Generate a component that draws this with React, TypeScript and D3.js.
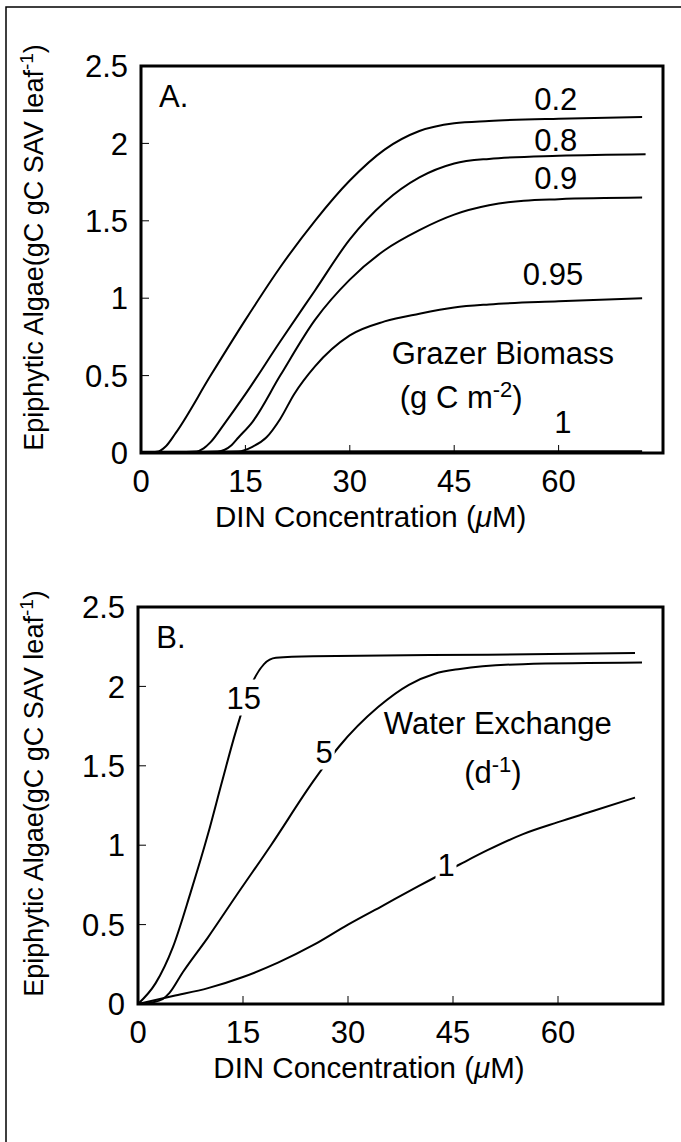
import React from "react";
import * as d3 from "d3";

type Pt = [number, number];

// ---------- data ----------
const xTicks = [0, 15, 30, 45, 60];
const yTicks = [0, 0.5, 1, 1.5, 2, 2.5];
const yTickLabels = ["0", "0.5", "1", "1.5", "2", "2.5"];

// Panel A: grazer biomass (g C m-2)
const grazer02: Pt[] = [[0, 0], [2.5, 0.01], [3.5, 0.04], [5, 0.13], [10, 0.5], [15, 0.86], [20, 1.2], [25, 1.5], [30, 1.76], [35, 1.96], [40, 2.08], [45, 2.13], [50, 2.145], [60, 2.16], [72, 2.17]];
const grazer08: Pt[] = [[0, 0], [8, 0.01], [9, 0.03], [10, 0.07], [12, 0.19], [15, 0.38], [20, 0.72], [25, 1.05], [30, 1.38], [35, 1.62], [40, 1.78], [45, 1.87], [50, 1.9], [60, 1.92], [72.5, 1.93]];
const grazer09: Pt[] = [[0, 0], [11, 0.01], [13, 0.05], [14, 0.1], [16, 0.2], [20, 0.5], [25, 0.86], [30, 1.12], [35, 1.31], [40, 1.44], [45, 1.54], [50, 1.6], [55, 1.63], [60, 1.64], [72, 1.65]];
const grazer095: Pt[] = [[0, 0], [14, 0.01], [16, 0.04], [18, 0.1], [20, 0.22], [22, 0.38], [25, 0.56], [30, 0.76], [35, 0.85], [40, 0.9], [45, 0.94], [50, 0.96], [60, 0.98], [72, 1.0]];
const grazer1: Pt[] = [[0, 0.005], [36, 0.008], [72, 0.008]];
const grazerLabels = ["0.2", "0.8", "0.9", "0.95", "1"];
const grazerLabelPos: Pt[] = [[59.6, 2.29], [59.6, 2.02], [59.6, 1.78], [59.2, 1.16], [60.6, 0.2]];

// Panel B: water exchange (d-1)
const exch15: Pt[] = [[0, 0], [2.5, 0.13], [5, 0.36], [7.5, 0.7], [10, 1.07], [12, 1.4], [14, 1.72], [16, 1.99], [18, 2.14], [19.7, 2.18], [25, 2.19], [50, 2.2], [71, 2.21]];
const exch5: Pt[] = [[0, 0], [2, 0.01], [3.5, 0.03], [4.5, 0.07], [6.4, 0.2], [10, 0.42], [14, 0.68], [19, 1.0], [25, 1.4], [28.7, 1.62], [34.3, 1.87], [38.7, 2.01], [42.4, 2.08], [46, 2.11], [55, 2.14], [72, 2.15]];
const exch1: Pt[] = [[0, 0], [5, 0.05], [10, 0.1], [15, 0.17], [20, 0.26], [25, 0.37], [30, 0.5], [35, 0.62], [40, 0.74], [46, 0.88], [50, 0.97], [55, 1.07], [60, 1.145], [65, 1.215], [71, 1.3]];
const exchLabels = ["15", "5", "1"];
const exchLabelPos: Pt[] = [[15.1, 1.93], [26.6, 1.59], [44, 0.875]];

const FONT = "'Liberation Sans', Arial, sans-serif";
const FS = 31;

interface PanelProps {
  left: number; right: number; top: number; bottom: number;
  series: Pt[][];
  labels: string[];
  labelPos: Pt[];
  gapLabels: boolean;
  letter: string;
  children?: (x: d3.ScaleLinear<number, number>, y: d3.ScaleLinear<number, number>) => React.ReactNode;
}

function Panel({ left, right, top, bottom, series, labels, labelPos, gapLabels, letter, children }: PanelProps) {
  const x = d3.scaleLinear().domain([0, 75]).range([left, right]);
  const y = d3.scaleLinear().domain([0, 2.5]).range([bottom, top]);
  const line = d3.line<Pt>().x(d => x(d[0])).y(d => y(d[1])).curve(d3.curveMonotoneX);
  const midY = (top + bottom) / 2 - 12;
  return (
    <g fontFamily={FONT}>
      {series.map((s, i) => (
        <path key={i} d={line(s) || ""} fill="none" stroke="#000" strokeWidth={i === series.length - 1 && !gapLabels ? 3 : 2} />
      ))}
      {labels.map((l, i) => {
        const cx = x(labelPos[i][0]);
        const cy = y(labelPos[i][1]);
        const w = l.length * 17 + 4;
        return (
          <g key={l + i}>
            {gapLabels && <rect x={cx - w / 2} y={cy - 18} width={w} height={36} fill="#fff" />}
            <text x={cx} y={cy} dy="0.36em" textAnchor="middle" fontSize={FS}>{l}</text>
          </g>
        );
      })}
      <rect x={left} y={top} width={right - left} height={bottom - top} fill="none" stroke="#000" strokeWidth={3} />
      {yTicks.slice(1, -1).map(t => (
        <line key={"yt" + t} x1={left} x2={left + 8} y1={y(t)} y2={y(t)} stroke="#000" strokeWidth={1} />
      ))}
      {xTicks.slice(1).map(t => (
        <line key={"xt" + t} x1={x(t)} x2={x(t)} y1={bottom} y2={bottom - 8} stroke="#000" strokeWidth={1} />
      ))}
      {yTicks.map((t, i) => (
        <text key={"yl" + t} x={left - 13} y={y(t)} dy="0.36em" textAnchor="end" fontSize={FS}>{yTickLabels[i]}</text>
      ))}
      {xTicks.map(t => (
        <text key={"xl" + t} x={x(t)} y={bottom + 28} dy="0.36em" textAnchor="middle" fontSize={FS}>{String(t)}</text>
      ))}
      <text x={x(33)} y={bottom + 74} textAnchor="middle" fontSize={29.5}>
        DIN Concentration (<tspan fontStyle="italic">μ</tspan>M)
      </text>
      <text transform={`translate(33,${midY}) rotate(-90)`} dy="0.36em" textAnchor="middle" fontSize={27}>
        Epiphytic Algae(gC gC SAV leaf<tspan dy="-10" fontSize={19}>-1</tspan><tspan dy="10">)</tspan>
      </text>
      <text x={x(4.7)} y={y(2.31)} dy="0.36em" textAnchor="middle" fontSize={FS}>{letter}</text>
      {children && children(x, y)}
    </g>
  );
}

export default function App() {
  return (
    <svg width={681} height={1142} style={{ position: "absolute", left: 0, top: 0, background: "#fff" }}>
      <rect x={0} y={0} width={681} height={1142} fill="#fff" />
      <path d="M6,1142 V7 H681" fill="none" stroke="#000" strokeWidth={1.5} />
      <Panel left={141} right={663} top={66} bottom={453}
        series={[grazer02, grazer08, grazer09, grazer095, grazer1]}
        labels={grazerLabels} labelPos={grazerLabelPos} gapLabels={false} letter="A.">
        {(x, y) => (
          <g fontSize={FS}>
            <text x={x(52)} y={y(0.65)} dy="0.36em" textAnchor="middle">Grazer Biomass</text>
            <text x={x(46)} y={y(0.36)} dy="0.36em" textAnchor="middle">
              (g C m<tspan dy="-11" fontSize={22}>-2</tspan><tspan dy="11">)</tspan>
            </text>
          </g>
        )}
      </Panel>
      <Panel left={138} right={663} top={607} bottom={1004}
        series={[exch15, exch5, exch1]}
        labels={exchLabels} labelPos={exchLabelPos} gapLabels={true} letter="B.">
        {(x, y) => (
          <g fontSize={FS}>
            <text x={x(51.4)} y={y(1.77)} dy="0.36em" textAnchor="middle">Water Exchange</text>
            <text x={x(50.7)} y={y(1.46)} dy="0.36em" textAnchor="middle">
              (d<tspan dy="-11" fontSize={22}>-1</tspan><tspan dy="11">)</tspan>
            </text>
          </g>
        )}
      </Panel>
    </svg>
  );
}
